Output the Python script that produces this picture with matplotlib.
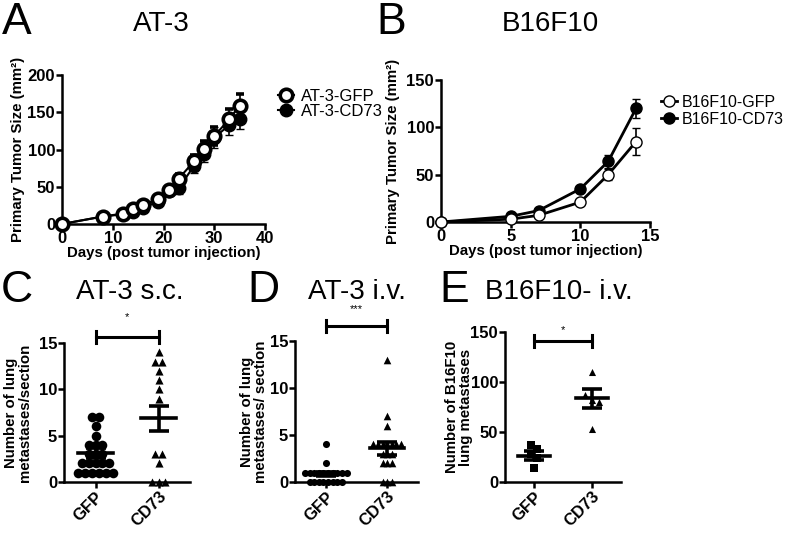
import matplotlib
matplotlib.use("Agg")
import matplotlib.pyplot as plt
import numpy as np

plt.rcParams['font.family'] = ['Liberation Sans', 'DejaVu Sans']
plt.rcParams['axes.linewidth'] = 1.8

# --- panel A: AT-3 tumor growth ---
a_days = [0, 8, 12, 14, 16, 19, 21, 23, 26, 28, 30, 33, 35]
a_gfp = [0, 10, 14, 20, 26, 33, 46, 61, 84, 101, 118, 141, 159]
a_gfp_sem = [0, 2, 2, 3, 3, 4, 5, 6, 8, 11, 12, 13, 16]
a_cd73 = [0, 10, 13, 16, 22, 30, 44, 48, 78, 94, 116, 133, 141]
a_cd73_sem = [0, 2, 2, 3, 3, 4, 5, 8, 10, 11, 14, 14, 13]

# --- panel B: B16F10 tumor growth ---
b_days = [0, 5, 7, 10, 12, 14]
b_gfp = [0, 3, 7, 21, 50, 85]
b_gfp_sem = [0, 1, 1, 2, 6, 14]
b_cd73 = [0, 6, 12, 35, 64, 120]
b_cd73_sem = [0, 1, 2, 2, 7, 10]

# --- panels C-E: lung metastases ---
groups = ['GFP', 'CD73']
c_gfp = [7, 7, 6, 5, 4, 4, 4, 3, 3, 3, 2, 2, 2, 2, 2, 1, 1, 1, 1, 1, 1]
c_cd73 = [14, 13, 13, 12, 11, 10, 9, 3, 3, 2, 0, 0, 0]
c_mean = [3.1, 6.9]
c_sem = [0.55, 1.35]

d_gfp = [4, 2, 1, 1, 1, 1, 1, 1, 1, 1, 1, 1, 0, 0, 0, 0, 0, 0, 0, 0]
d_cd73 = [13, 7, 6, 4, 4, 4, 4, 4, 4, 4, 3, 3, 3, 2, 2, 2, 0, 0, 0]
d_mean = [0.85, 3.6]
d_sem = [0.25, 0.7]

e_gfp = [37, 33, 28, 24, 14]
e_cd73 = [110, 87, 82, 80, 53]
e_mean = [26.5, 84]
e_sem = [4.5, 9.5]

W, H = 786, 533
fig = plt.figure(figsize=(W / 100, H / 100), dpi=100)

TICK = 12
LAB = 10.8


def px_axes(x0, x1, y0, y1):
    # x0..x1 and y0 (bottom) .. y1 (top) in pixel coords of the picture
    return fig.add_axes([x0 / W, 1 - y0 / H, (x1 - x0) / W, (y0 - y1) / H])


def style(ax):
    for s in ['top', 'right']:
        ax.spines[s].set_visible(False)
    ax.tick_params(direction='out', length=4, width=1.8, labelsize=TICK, pad=1)
    for lab in ax.get_xticklabels() + ax.get_yticklabels():
        lab.set_fontweight('bold')


def fig_text(x, y, s, size, **kw):
    fig.text(x / W, 1 - y / H, s, fontsize=size, ha='center', va='center', **kw)


def swarm(vals, tol, step):
    # spread points with (nearly) the same value side by side
    vals = np.asarray(vals, dtype=float)
    order = np.argsort(-vals)
    offs = np.zeros(len(vals))
    grp = [order[0]]
    for i in order[1:]:
        if abs(vals[grp[0]] - vals[i]) < tol:
            grp.append(i)
        else:
            k = len(grp)
            offs[grp] = (np.arange(k) - (k - 1) / 2) * step
            grp = [i]
    k = len(grp)
    offs[grp] = (np.arange(k) - (k - 1) / 2) * step
    return offs


# A
ax = px_axes(62, 265, 224, 75)
ax.errorbar(a_days, a_gfp, yerr=a_gfp_sem, color='black', lw=1.5, capsize=3,
            elinewidth=1.2, marker='o', ms=9, mfc='white', mec='black', mew=2.6,
            label='AT-3-GFP', clip_on=False, zorder=3)
ax.errorbar(a_days, a_cd73, yerr=a_cd73_sem, color='black', lw=1.5, capsize=3,
            elinewidth=1.2, marker='o', ms=9, mfc='black', mec='black',
            label='AT-3-CD73', clip_on=False, zorder=2)
ax.set_xlim(0, 40)
ax.set_ylim(0, 200)
ax.set_xticks([0, 10, 20, 30, 40])
ax.set_yticks([0, 50, 100, 150, 200])
style(ax)
ax.set_xlabel('Days (post tumor injection)', fontsize=LAB, fontweight='bold', labelpad=0)
ax.set_ylabel('Primary Tumor Size (mm²)', fontsize=LAB, fontweight='bold')
ax.yaxis.set_label_coords(-0.18, 0.5)
h, l = ax.get_legend_handles_labels()
ax.legend([x[0] for x in h], l, loc='upper left', bbox_to_anchor=(1.03, 0.95),
          frameon=False, fontsize=12, handlelength=1.0, handletextpad=0.4,
          labelspacing=0.0, borderaxespad=0)

# B
ax = px_axes(441, 650, 222, 80)
ax.errorbar(b_days, b_gfp, yerr=b_gfp_sem, color='black', lw=2.0, capsize=3,
            elinewidth=1.2, marker='o', ms=8, mfc='white', mec='black', mew=1.0,
            label='B16F10-GFP', clip_on=False, zorder=3)
ax.errorbar(b_days, b_cd73, yerr=b_cd73_sem, color='black', lw=2.0, capsize=3,
            elinewidth=1.2, marker='o', ms=8, mfc='black', mec='black',
            label='B16F10-CD73', clip_on=False, zorder=2)
ax.set_xlim(0, 15)
ax.set_ylim(0, 150)
ax.set_xticks([0, 5, 10, 15])
ax.set_yticks([0, 50, 100, 150])
style(ax)
ax.set_xlabel('Days (post tumor injection)', fontsize=LAB, fontweight='bold', labelpad=0)
ax.set_ylabel('Primary Tumor Size (mm²)', fontsize=LAB, fontweight='bold')
ax.yaxis.set_label_coords(-0.196, 0.5)
h, l = ax.get_legend_handles_labels()
ax.legend([x[0] for x in h], l, loc='upper left', bbox_to_anchor=(1.02, 0.94),
          frameon=False, fontsize=11.5, handlelength=1.0, handletextpad=0.3,
          labelspacing=0.1, borderaxespad=0)


def dot_panel(ax, g1, g2, mean, sem, m1, m2, s1, s2, tol, step, ylim, yticks,
              bar_y, bar_h, star, star_y, ylabel, labx):
    for i, (vals, mk, s) in enumerate([(g1, m1, s1), (g2, m2, s2)]):
        offs = swarm(vals, tol, step)
        ax.scatter(i + offs, vals, marker=mk, s=s, color='black', lw=0,
                   clip_on=False, zorder=3)
        ax.plot([i - 0.28, i + 0.28], [mean[i], mean[i]], color='black', lw=2.6, zorder=4)
        ax.errorbar([i], [mean[i]], yerr=[sem[i]], color='black', lw=2.6,
                    capsize=7, capthick=2.6, zorder=4)
    ax.plot([0, 1], [bar_y, bar_y], color='black', lw=2.2, clip_on=False)
    ax.plot([0, 0], [bar_y - bar_h, bar_y + bar_h], color='black', lw=2.2, clip_on=False)
    ax.plot([1, 1], [bar_y - bar_h, bar_y + bar_h], color='black', lw=2.2, clip_on=False)
    ax.text(0.5, star_y, star, ha='center', va='center', fontsize=8)
    ax.set_xlim(-0.5, 1.5)
    ax.set_ylim(*ylim)
    ax.set_yticks(yticks)
    ax.set_xticks([0, 1])
    ax.set_xticklabels(groups, rotation=45, ha='right', rotation_mode='anchor')
    style(ax)
    ax.set_ylabel(ylabel, fontsize=LAB, fontweight='bold', linespacing=1.0)
    ax.yaxis.set_label_coords(labx, 0.5)


# C
ax = px_axes(64, 190, 482, 343)
dot_panel(ax, c_gfp, c_cd73, c_mean, c_sem, 'o', '^', 48, 34, 0.5, 0.11,
          (0, 15), [0, 5, 10, 15], 15.6, 0.65, '*', 17.8,
          'Number of lung\nmetastases/section', -0.25)

# D
ax = px_axes(295, 418, 482, 341)
dot_panel(ax, d_gfp, d_cd73, d_mean, d_sem, 'o', '^', 26, 30, 0.5, 0.075,
          (0, 15), [0, 5, 10, 15], 16.6, 0.65, '***', 18.4,
          'Number of lung\nmetastases/ section', -0.22)

# E
ax = px_axes(505, 621, 482, 332)
dot_panel(ax, e_gfp, e_cd73, e_mean, e_sem, 's', '^', 34, 26, 8, 0.12,
          (0, 150), [0, 50, 100, 150], 141, 6, '*', 152,
          'Number of B16F10\nlung metastases', -0.28)

# titles and panel letters
fig_text(17, 22, 'A', 32)
fig_text(161, 24, 'AT-3', 20)
fig_text(391, 22, 'B', 32)
fig_text(550, 24, 'B16F10', 20)
fig_text(17, 291, 'C', 32)
fig_text(130, 292, 'AT-3 s.c.', 20)
fig_text(263, 291, 'D', 32)
fig_text(357, 292, 'AT-3 i.v.', 20)
fig_text(454, 291, 'E', 32)
fig_text(559, 292, 'B16F10- i.v.', 20)

fig.savefig('out.png', dpi=100)
